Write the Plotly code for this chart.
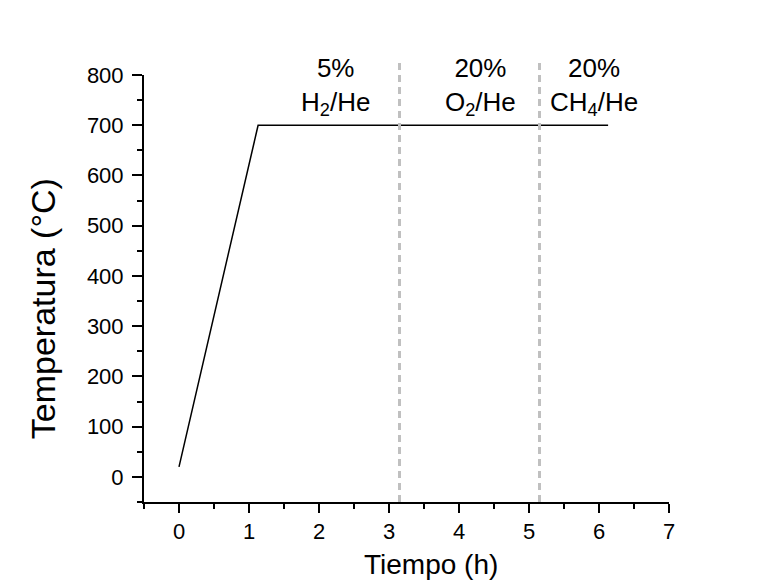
import plotly.graph_objects as go

# Data
tiempo = [0, 1.13, 6.13]
temperatura = [20, 700, 700]
cambios_gas = [3.15, 5.15]
etiquetas_x = [2.23, 4.30, 5.93]
etiquetas_txt = ["5%<br>H<sub>2</sub>/He", "20%<br>O<sub>2</sub>/He", "20%<br>CH<sub>4</sub>/He"]

x_range = [-0.5, 7]
y_range = [-50, 800]
x_ticks = [0, 1, 2, 3, 4, 5, 6, 7]
y_ticks = [0, 100, 200, 300, 400, 500, 600, 700, 800]

FONT = "Liberation Sans, Arial"

fig = go.Figure()
fig.add_trace(go.Scatter(x=tiempo, y=temperatura, mode="lines",
                         line=dict(color="black", width=1.5), showlegend=False))

# dashed vertical lines (paper coords so they can extend above the axis top)
for xv in cambios_gas:
    xp = (xv - x_range[0]) / (x_range[1] - x_range[0])
    fig.add_shape(type="line", xref="paper", yref="paper", x0=xp, x1=xp, y0=0, y1=1.03,
                  line=dict(color="#c0c0c0", width=3, dash="7px,5px"), layer="above")

for xv, txt in zip(etiquetas_x, etiquetas_txt):
    fig.add_annotation(x=xv, y=0.89, xref="x", yref="paper", text=txt, showarrow=False,
                       yanchor="bottom", font=dict(size=26, color="black", family=FONT),
                       align="center")

# axis titles
fig.add_annotation(x=0.547, y=-0.1475, xref="paper", yref="paper", text="Tiempo (h)",
                   showarrow=False, xanchor="center", yanchor="middle",
                   font=dict(size=28, color="black", family=FONT))
fig.add_annotation(x=-0.192, y=0.452, xref="paper", yref="paper", text="Temperatura (°C)",
                   showarrow=False, xanchor="center", yanchor="middle", textangle=-90,
                   font=dict(size=34, color="black", family=FONT))

fig.update_layout(
    width=761, height=585,
    margin=dict(l=144, r=92, t=75, b=83),
    paper_bgcolor="white", plot_bgcolor="white",
    font=dict(family=FONT, color="black"),
)
fig.update_xaxes(range=x_range, tickvals=x_ticks, showline=True, linecolor="black", linewidth=2,
                 ticks="outside", ticklen=9, tickwidth=1.5, tickcolor="black",
                 minor=dict(dtick=0.5, ticks="outside", ticklen=5, tickwidth=1.5, tickcolor="black"),
                 showgrid=False, zeroline=False, tickfont=dict(size=22))
fig.update_yaxes(range=y_range, tickvals=y_ticks, showline=True, linecolor="black", linewidth=2,
                 ticks="outside", ticklen=10, tickwidth=1.5, tickcolor="black", ticklabelstandoff=4,
                 minor=dict(dtick=50, ticks="outside", ticklen=5, tickwidth=1.5, tickcolor="black"),
                 showgrid=False, zeroline=False, tickfont=dict(size=22))

fig.write_html("out.html")
